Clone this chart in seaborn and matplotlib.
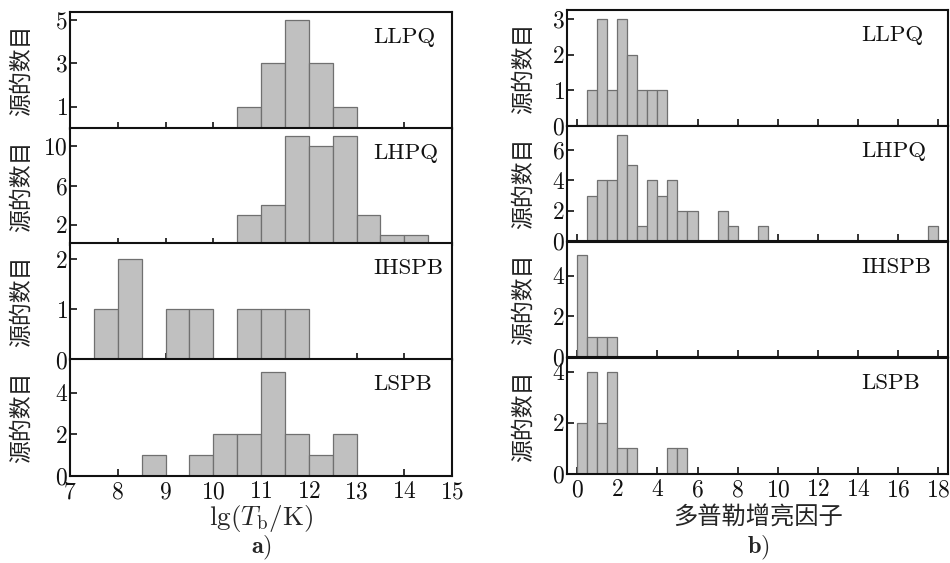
import numpy as np
import pandas as pd
import seaborn as sns
import matplotlib.pyplot as plt

# source classes, top to bottom
classes = ["LLPQ", "LHPQ", "IHSPB", "LSPB"]

# a) lg(Tb/K): left edge of each 0.5-wide bin and its count
tb_left = {
    "LLPQ": [10.5, 11.0, 11.5, 12.0, 12.5],
    "LHPQ": [10.5, 11.0, 11.5, 12.0, 12.5, 13.0, 13.5, 14.0],
    "IHSPB": [7.5, 8.0, 9.0, 9.5, 10.5, 11.0, 11.5],
    "LSPB": [8.5, 9.5, 10.0, 10.5, 11.0, 11.5, 12.0, 12.5],
}
tb_count = {
    "LLPQ": [1, 3, 5, 3, 1],
    "LHPQ": [3, 4, 11, 10, 11, 3, 1, 1],
    "IHSPB": [1, 2, 1, 1, 1, 1, 1],
    "LSPB": [1, 1, 2, 2, 5, 2, 1, 2],
}

# b) Doppler boosting factor: left edge of each 0.5-wide bin and its count
db_left = {
    "LLPQ": [0.5, 1.0, 1.5, 2.0, 2.5, 3.0, 3.5, 4.0],
    "LHPQ": [0.5, 1.0, 1.5, 2.0, 2.5, 3.0, 3.5, 4.0, 4.5, 5.0, 5.5, 7.0, 7.5, 9.0, 17.5],
    "IHSPB": [0.0, 0.5, 1.0, 1.5],
    "LSPB": [0.0, 0.5, 1.0, 1.5, 2.0, 2.5, 4.5, 5.0],
}
db_count = {
    "LLPQ": [1, 3, 1, 3, 2, 1, 1, 1],
    "LHPQ": [3, 4, 4, 7, 5, 1, 4, 3, 4, 2, 2, 2, 1, 1, 1],
    "IHSPB": [5, 1, 1, 1],
    "LSPB": [2, 4, 2, 4, 1, 1, 1, 1],
}

tb_yticks = {"LLPQ": [1, 3, 5], "LHPQ": [2, 6, 10], "IHSPB": [0, 1, 2], "LSPB": [0, 2, 4]}
db_yticks = {"LLPQ": [0, 1, 2, 3], "LHPQ": [0, 2, 4, 6], "IHSPB": [0, 2, 4], "LSPB": [0, 2, 4]}
tb_ytop = {"LLPQ": 5.37, "LHPQ": 11.85, "IHSPB": 2.32, "LSPB": 5.63}
db_ytop = {"LLPQ": 3.26, "LHPQ": 7.6, "IHSPB": 5.66, "LSPB": 4.53}

tb_xticks = [7, 8, 9, 10, 11, 12, 13, 14, 15]
db_xticks = [0, 2, 4, 6, 8, 10, 12, 14, 16, 18]

sns.set_theme(style="ticks")
plt.rcParams['font.family'] = ['cmr10', 'Noto Sans CJK SC', 'DejaVu Sans']
plt.rcParams['mathtext.fontset'] = 'cm'
plt.rcParams['axes.formatter.use_mathtext'] = True

W, H = 950, 563
fig = plt.figure(figsize=(9.5, 5.63), dpi=100)

cjk = ['Noto Sans CJK SC', 'DejaVu Sans']
bar_kw = dict(color="#c0c0c0", edgecolor="#707070", linewidth=0.9, alpha=1)


def make_column(x0, x1, tops, ph, left, count, yticks, ytop, xticks, xlim, brange, label_x, ylabel_x):
    axes = []
    for i, name in enumerate(classes):
        ax = fig.add_axes([x0 / W, 1 - (tops[i] + ph) / H, (x1 - x0) / W, ph / H])
        df = pd.DataFrame({"x": [v + 0.25 for v in left[name]], "n": count[name]})
        sns.histplot(data=df, x="x", weights="n", binwidth=0.5, binrange=brange,
                     ax=ax, **bar_kw)
        ax.set_xlim(*xlim)
        ax.set_ylim(0, ytop[name])
        ax.set_yticks(yticks[name])
        ax.set_xticks(xticks)
        ax.tick_params(direction="in", length=5, width=1.2, labelsize=17,
                       top=False, right=False, colors="#111111")
        ax.tick_params(axis="x", pad=4)
        ax.tick_params(axis="y", pad=1.5)
        if i < len(classes) - 1:
            ax.tick_params(labelbottom=False)
        for s in ax.spines.values():
            s.set_linewidth(1.5)
            s.set_color("#111111")
        ax.set_ylabel("源的数目", fontsize=16.5, family=cjk, color="#222222")
        ax.yaxis.set_label_coords(ylabel_x, 0.5)
        ax.set_xlabel("")
        ax.text(label_x, 0.78, name, transform=ax.transAxes, ha="left", va="center",
                fontsize=16.5, color="#111111")
        axes.append(ax)
    return axes


left_axes = make_column(70, 452, [12, 128, 243, 359], 116.5,
                        tb_left, tb_count, tb_yticks, tb_ytop,
                        tb_xticks, (7, 15), (7, 15), 0.793, -0.097)
right_axes = make_column(567, 948.5, [10, 125.7, 241.7, 358.3], 115.5,
                         db_left, db_count, db_yticks, db_ytop,
                         db_xticks, (-0.5, 18.5), (0, 18.5), 0.771, -0.085)

left_axes[-1].set_xlabel(r"$\mathrm{lg}(T_\mathrm{b}/\mathrm{K})$", fontsize=19.5)
left_axes[-1].xaxis.set_label_coords(0.5, -0.238)
right_axes[-1].set_xlabel("多普勒增亮因子", fontsize=17.5, family=cjk)
right_axes[-1].xaxis.set_label_coords(0.5, -0.265)

fig.text(261 / W, 1 - 548 / H, r"$\mathbf{a})$", ha="center", va="center", fontsize=17.5)
fig.text(758 / W, 1 - 548 / H, r"$\mathbf{b})$", ha="center", va="center", fontsize=17.5)

plt.savefig("out.png", dpi=100)
